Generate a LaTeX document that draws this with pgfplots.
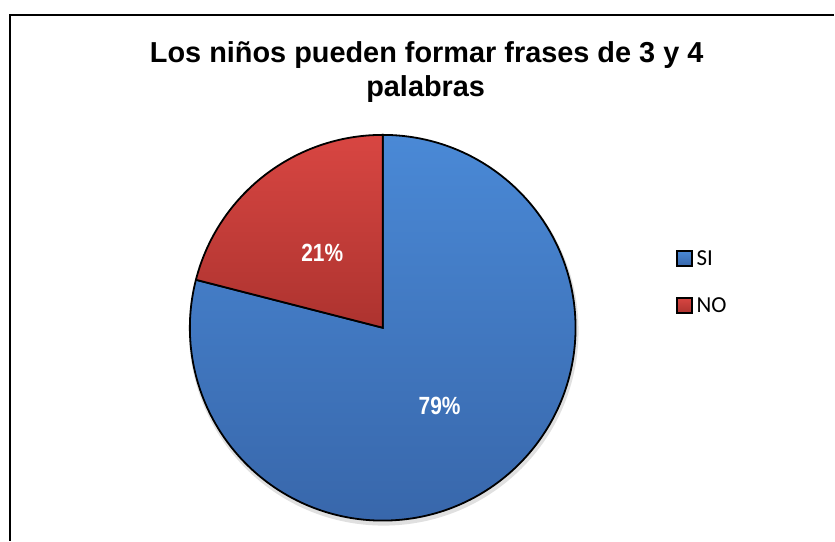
\documentclass[border=0pt]{standalone}
\usepackage{pgfplots}
\pgfplotsset{compat=1.18}
\usepackage{fontspec}
\setmainfont{Liberation Sans}
\newfontfamily\legfont{Carlito}
\definecolor{siTop}{HTML}{4A89D6}
\definecolor{siBot}{HTML}{3867AB}
\definecolor{noTop}{HTML}{D84642}
\definecolor{noBot}{HTML}{AD332F}
\begin{document}
\begin{tikzpicture}
\begin{axis}[width=835bp,height=541bp,scale only axis,
  xmin=0,xmax=835,ymin=0,ymax=541,hide axis,clip=false]
\pgfmathsetmacro{\valSI}{79}
\pgfmathsetmacro{\valNO}{21}
\pgfmathsetmacro{\angSI}{90-\valSI*3.6}
\path (axis cs:0,0) rectangle (axis cs:835,541);
% frame
\draw[line width=1.3bp] (axis cs:10,0) -- (axis cs:10,526) -- (axis cs:835,526);
% title
\node[anchor=base,font=\bfseries\fontsize{29}{34}\selectfont] at (axis cs:427,478) {Los niños pueden formar frases de 3 y 4};
\node[anchor=base,font=\bfseries\fontsize{29}{34}\selectfont] at (axis cs:426,444) {palabras};
% shadow
\fill[black,opacity=0.12] (axis cs:384,210) circle[radius=195bp];
% SI wedge
\draw[line width=1.8bp,top color=siTop,bottom color=siBot]
  (axis cs:383,213) -- (axis cs:383,406) arc[start angle=90,end angle=\angSI,radius=193bp] -- cycle;
% NO wedge
\draw[line width=1.8bp,top color=noTop,bottom color=noBot]
  (axis cs:383,213) -- (axis cs:383,406) arc[start angle=90,end angle={\angSI+360},radius=193bp] -- cycle;
% labels
\node[text=white,font=\bfseries\fontsize{25}{30}\selectfont] at (axis cs:322.5,288) {\scalebox{0.84}[1]{21\%}};
\node[text=white,font=\bfseries\fontsize{25}{30}\selectfont] at (axis cs:440,135) {\scalebox{0.84}[1]{79\%}};
% legend
\draw[line width=2bp,top color=siTop,bottom color=siBot] (axis cs:678,275) rectangle (axis cs:693,290);
\draw[line width=2bp,top color=noTop,bottom color=noBot] (axis cs:678,228) rectangle (axis cs:693,243);
\node[anchor=west,inner sep=0pt,font=\legfont\fontsize{23}{27}\selectfont] at (axis cs:697,283) {SI};
\node[anchor=west,inner sep=0pt,font=\legfont\fontsize{23}{27}\selectfont] at (axis cs:697,236) {NO};
\end{axis}
\end{tikzpicture}
\end{document}
